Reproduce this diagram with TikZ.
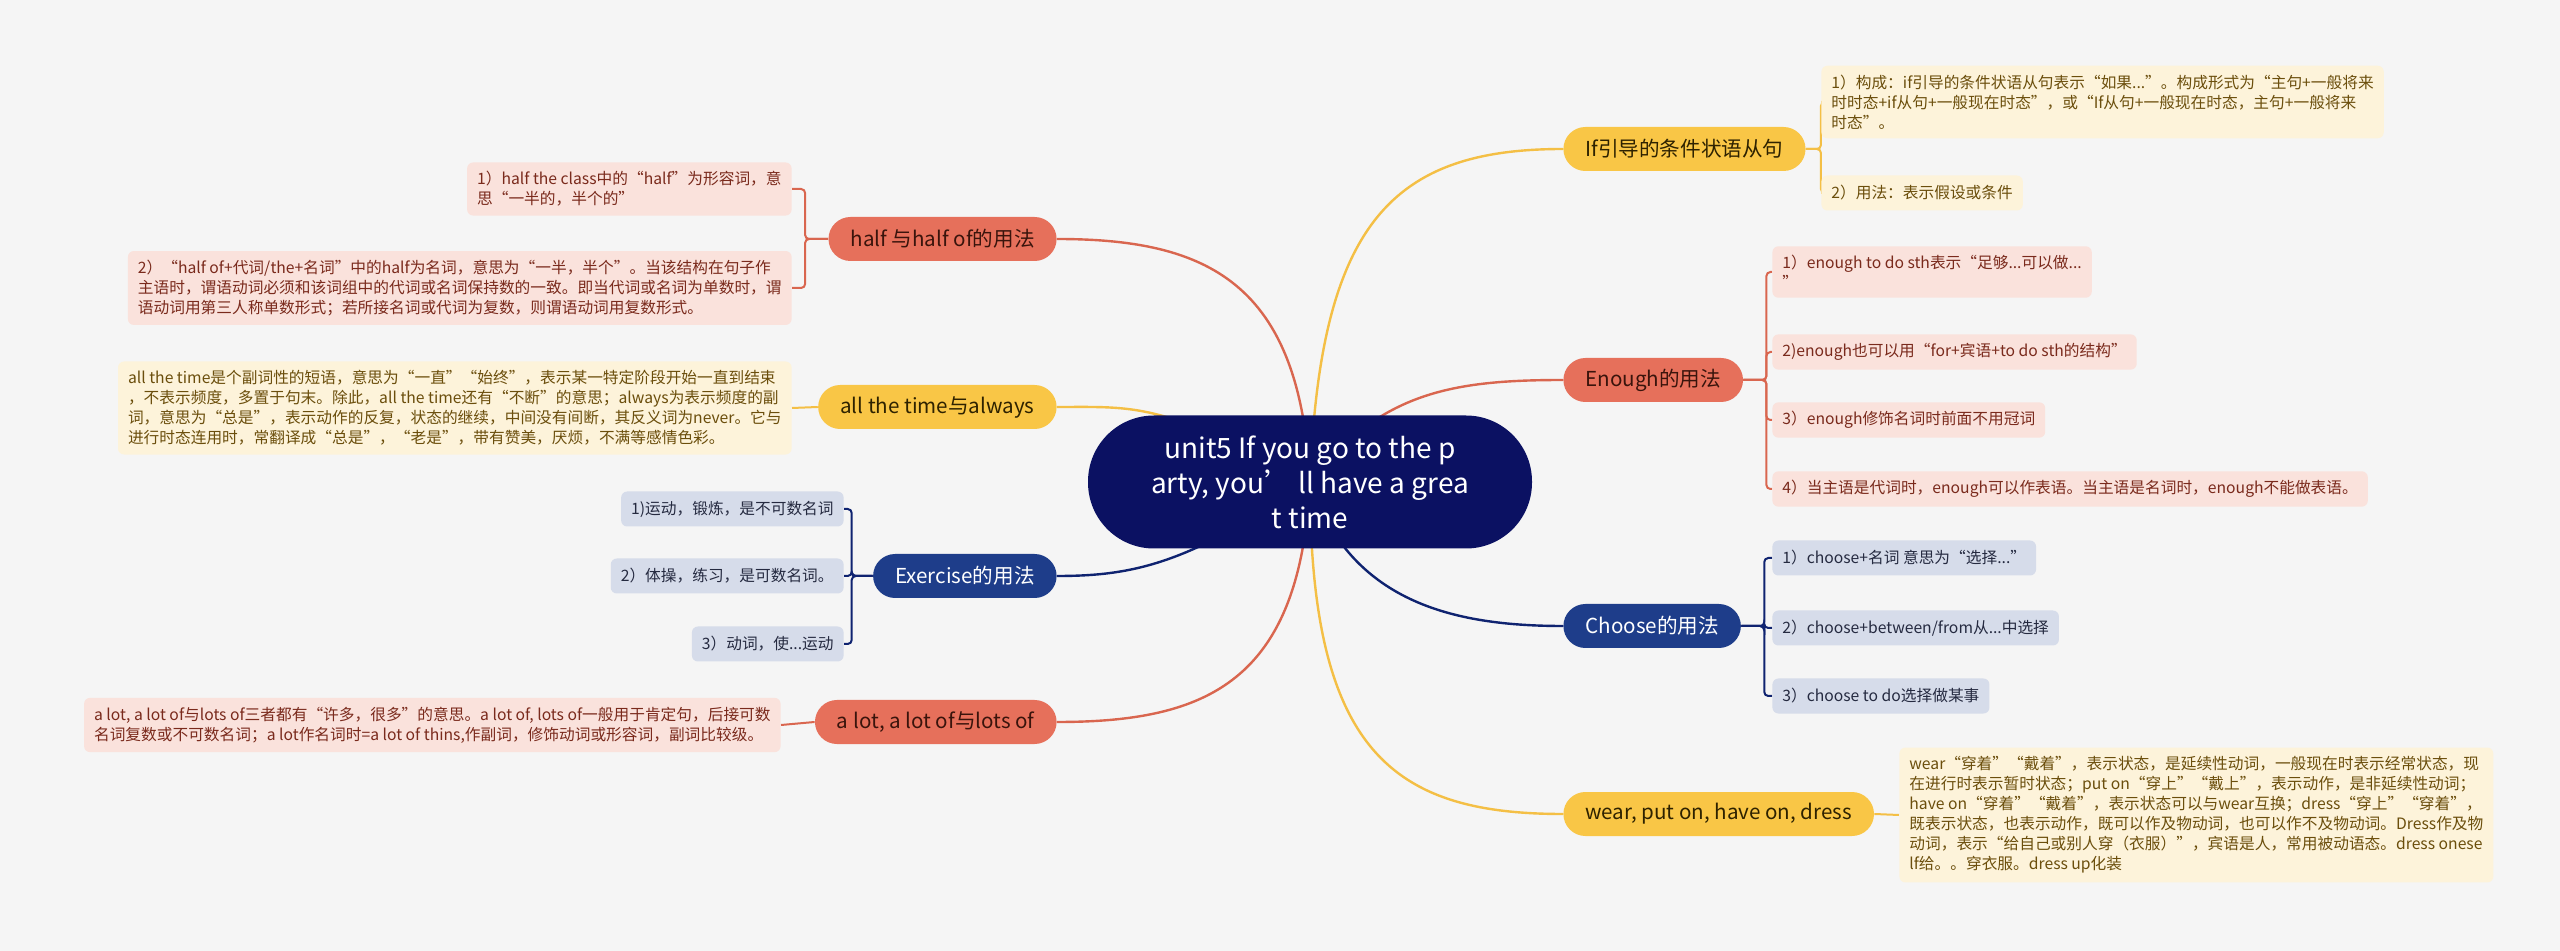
\documentclass[tikz,border=0pt]{standalone}
\usepackage{fontspec}
\setmainfont{Noto Sans CJK SC}
\usetikzlibrary{positioning}
\definecolor{bgc}{HTML}{F5F5F5}
\definecolor{rootc}{HTML}{0B1162}
\definecolor{cYel}{HTML}{F9C646}
\definecolor{cYelLn}{HTML}{F4BF45}
\definecolor{cYelLf}{HTML}{FDF3DA}
\definecolor{cYelTx}{HTML}{2E2200}
\definecolor{cYelLfTx}{HTML}{6B4E0C}
\definecolor{cRed}{HTML}{E6705B}
\definecolor{cRedLn}{HTML}{D9664F}
\definecolor{cRedLf}{HTML}{FAE2DC}
\definecolor{cRedTx}{HTML}{3A140C}
\definecolor{cRedLfTx}{HTML}{7A2A1C}
\definecolor{cBlu}{HTML}{1E3D8A}
\definecolor{cBluLn}{HTML}{0F2370}
\definecolor{cBluLf}{HTML}{D6DCEA}
\definecolor{cBluLfTx}{HTML}{252A40}
\pgfdeclarelayer{bottom}
\pgfdeclarelayer{back}
\pgfsetlayers{bottom,back,main}

\begin{document}
\begin{tikzpicture}[x=0.5pt,y=0.5pt,
   root/.style={fill=rootc,text=white,rounded corners=33pt,minimum width=222pt,minimum height=66.5pt,align=center,font=\fontsize{14}{17.5}\selectfont},
   mn/.style={rounded corners=11pt,minimum height=22pt,inner xsep=11pt,font=\fontsize{10.3}{12}\selectfont},
   ym/.style={mn,fill=cYel,text=cYelTx},
   rm/.style={mn,fill=cRed,text=cRedTx},
   bm/.style={mn,fill=cBlu,text=white},
   lf/.style={rounded corners=3pt,minimum height=17.5pt,inner xsep=5pt,inner ysep=4.5pt,align=left,font=\fontsize{7.85}{10}\selectfont},
   yf/.style={lf,fill=cYelLf,text=cYelLfTx},
   rf/.style={lf,fill=cRedLf,text=cRedLfTx},
   bf/.style={lf,fill=cBluLf,text=cBluLfTx},
   yl/.style={draw=cYelLn,line width=1.2pt},
   rl/.style={draw=cRedLn,line width=1.2pt},
   bl/.style={draw=cBluLn,line width=1.2pt},
   br/.style={line width=1pt,rounded corners=2pt}]
  \begin{pgfonlayer}{bottom}
    \fill[bgc] (0,0) rectangle (2560,-951);
  \end{pgfonlayer}

  \node[root] (root) at (1310,-482) {unit5 If you go to the p\\arty, you’ ll have a grea\\t time};

  \node[ym,anchor=west] (ifn) at (1563,-149) {If引导的条件状语从句};
  \node[rm,anchor=west] (enough) at (1563,-380) {Enough的用法};
  \node[bm,anchor=west] (choose) at (1563,-626) {Choose的用法};
  \node[ym,anchor=west] (wear) at (1563,-814) {wear, put on, have on, dress};
  \node[rm,anchor=east] (half) at (1057,-239) {half 与half of的用法};
  \node[ym,anchor=east] (allt) at (1057,-407) {all the time与always};
  \node[bm,anchor=east] (exer) at (1057,-576) {Exercise的用法};
  \node[rm,anchor=east] (alot) at (1057,-722) {a lot, a lot of与lots of};

  \node[yf,anchor=west] (if1) at (1821,-102) {1）构成：if引导的条件状语从句表示“如果...”。构成形式为“主句+一般将来\\时时态+if从句+一般现在时态”，或“If从句+一般现在时态，主句+一般将来\\时态”。};
  \node[yf,anchor=west] (if2) at (1821,-193) {2）用法：表示假设或条件};
  \node[rf,anchor=west] (e1) at (1772,-272) {1）enough to do sth表示“足够...可以做...\\”};
  \node[rf,anchor=west] (e2) at (1772,-352) {2)enough也可以用“for+宾语+to do sth的结构”};
  \node[rf,anchor=west] (e3) at (1772,-420) {3）enough修饰名词时前面不用冠词};
  \node[rf,anchor=west] (e4) at (1772,-489) {4）当主语是代词时，enough可以作表语。当主语是名词时，enough不能做表语。};
  \node[bf,anchor=west] (c1) at (1772,-558) {1）choose+名词 意思为“选择...”};
  \node[bf,anchor=west] (c2) at (1772,-628) {2）choose+between/from从...中选择};
  \node[bf,anchor=west] (c3) at (1772,-696) {3）choose to do选择做某事};
  \node[yf,anchor=west] (w1) at (1899,-815) {wear“穿着”“戴着”，表示状态，是延续性动词，一般现在时表示经常状态，现\\在进行时表示暂时状态；put on“穿上”“戴上”，表示动作，是非延续性动词；\\have on“穿着”“戴着”，表示状态可以与wear互换；dress“穿上”“穿着”，\\既表示状态，也表示动作，既可以作及物动词，也可以作不及物动词。Dress作及物\\动词，表示“给自己或别人穿（衣服）”，宾语是人，常用被动语态。dress onese\\lf给。。穿衣服。dress up化装};

  \node[rf,anchor=east] (h1) at (792,-189) {1）half the class中的“half”为形容词，意\\思“一半的，半个的”};
  \node[rf,anchor=east] (h2) at (792,-288) {2）“half of+代词/the+名词”中的half为名词，意思为“一半，半个”。当该结构在句子作\\主语时，谓语动词必须和该词组中的代词或名词保持数的一致。即当代词或名词为单数时，谓\\语动词用第三人称单数形式；若所接名词或代词为复数，则谓语动词用复数形式。};
  \node[yf,anchor=east] (a1) at (792,-408) {all the time是个副词性的短语，意思为“一直”“始终”，表示某一特定阶段开始一直到结束\\，不表示频度，多置于句末。除此，all the time还有“不断”的意思；always为表示频度的副\\词，意思为“总是”，表示动作的反复，状态的继续，中间没有间断，其反义词为never。它与\\进行时态连用时，常翻译成“总是”，“老是”，带有赞美，厌烦，不满等感情色彩。};
  \node[bf,anchor=east] (x1) at (844,-509) {1)运动，锻炼，是不可数名词};
  \node[bf,anchor=east] (x2) at (844,-576) {2）体操，练习，是可数名词。};
  \node[bf,anchor=east] (x3) at (844,-644) {3）动词，使...运动};
  \node[rf,anchor=east] (l1) at (781,-725) {a lot, a lot of与lots of三者都有“许多，很多”的意思。a lot of, lots of一般用于肯定句，后接可数\\名词复数或不可数名词；a lot作名词时=a lot of thins,作副词，修饰动词或形容词，副词比较级。};

  \begin{pgfonlayer}{back}
    \draw[yl] (root.center) .. controls +(10,260) and +(-170,0) .. (ifn.west);
    \draw[rl] (root.center) .. controls +(70,90) and +(-110,0) .. (enough.west);
    \draw[bl] (root.center) .. controls +(40,-120) and +(-110,0) .. (choose.west);
    \draw[yl] (root.center) .. controls +(0,-270) and +(-170,0) .. (wear.west);
    \draw[rl] (root.center) .. controls +(-10,200) and +(150,0) .. (half.east);
    \draw[yl] (root.center) .. controls +(-150,80) and +(80,0) .. (allt.east);
    \draw[bl] (root.center) .. controls +(-120,-80) and +(80,0) .. (exer.east);
    \draw[rl] (root.center) .. controls +(-10,-200) and +(150,0) .. (alot.east);

    \draw[yl,br] (ifn.east) -- ++(15,0) |- (if1.west);
    \draw[yl,br] (ifn.east) -- ++(15,0) |- (if2.west);
    \draw[rl,br] (enough.east) -- ++(23,0) |- (e1.west);
    \draw[rl,br] (enough.east) -- ++(23,0) |- (e2.west);
    \draw[rl,br] (enough.east) -- ++(23,0) |- (e3.west);
    \draw[rl,br] (enough.east) -- ++(23,0) |- (e4.west);
    \draw[bl,br] (choose.east) -- ++(23,0) |- (c1.west);
    \draw[bl,br] (choose.east) -- ++(23,0) |- (c2.west);
    \draw[bl,br] (choose.east) -- ++(23,0) |- (c3.west);
    \draw[yl,br] (wear.east) -- (w1.west);
    \draw[rl,br] (half.west) -- ++(-23,0) |- (h1.east);
    \draw[rl,br] (half.west) -- ++(-23,0) |- (h2.east);
    \draw[yl,br] (allt.west) -- (a1.east);
    \draw[bl,br] (exer.west) -- ++(-21,0) |- (x1.east);
    \draw[bl,br] (exer.west) -- ++(-21,0) |- (x2.east);
    \draw[bl,br] (exer.west) -- ++(-21,0) |- (x3.east);
    \draw[rl,br] (alot.west) -- (l1.east);
  \end{pgfonlayer}
\end{tikzpicture}
\end{document}
